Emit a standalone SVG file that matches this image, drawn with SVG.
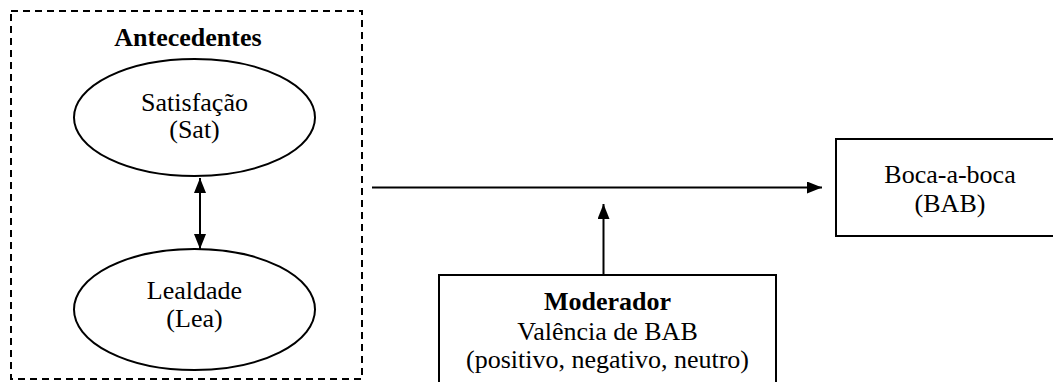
<svg xmlns="http://www.w3.org/2000/svg" width="1053" height="382" viewBox="0 0 1053 382">
<defs>
<style>
.t{font-family:"Liberation Serif","Times New Roman",serif;font-size:26px;fill:#000;text-anchor:middle}
.b{font-weight:bold}
.s{fill:#fff;stroke:#000;stroke-width:2}
.c{stroke:#000;stroke-width:2;fill:none}
</style>
<marker id="ah" viewBox="0 0 15 12" refX="15" refY="6" markerWidth="15" markerHeight="12" markerUnits="userSpaceOnUse" orient="auto-start-reverse">
<path d="M0,0 L15,6 L0,12 Z" fill="#000"/>
</marker>
</defs>
<rect width="1053" height="382" fill="#fff"/>
<g id="antecedentes">
<rect x="11" y="11" width="351" height="368" fill="none" stroke="#000" stroke-width="2" stroke-dasharray="7,5"/>
<text class="t b" x="188" y="46">Antecedentes</text>
</g>
<g id="sat">
<ellipse class="s" cx="194.5" cy="117.5" rx="120.5" ry="58.5"/>
<text class="t" x="194.5" y="111">Satisfação</text>
<text class="t" x="194.5" y="138">(Sat)</text>
</g>
<g id="lea">
<ellipse class="s" cx="194.5" cy="309.5" rx="120.5" ry="60.5"/>
<text class="t" x="194.5" y="299">Lealdade</text>
<text class="t" x="194.5" y="327">(Lea)</text>
</g>
<g id="bab">
<rect class="s" x="836" y="139" width="230" height="97"/>
<text class="t" x="950" y="183">Boca-a-boca</text>
<text class="t" x="950" y="212">(BAB)</text>
</g>
<g id="moderador">
<rect class="s" x="439" y="275" width="337" height="120"/>
<text class="t b" x="607.5" y="310">Moderador</text>
<text class="t" x="607.5" y="340">Valência de BAB</text>
<text class="t" x="607.5" y="368">(positivo, negativo, neutro)</text>
</g>
<g id="connectors">
<line class="c" x1="200" y1="178" x2="200" y2="249" marker-start="url(#ah)" marker-end="url(#ah)"/>
<line class="c" x1="372" y1="187.5" x2="822" y2="187.5" marker-end="url(#ah)"/>
<line class="c" x1="603.5" y1="275" x2="603.5" y2="204" marker-end="url(#ah)"/>
</g>
</svg>
